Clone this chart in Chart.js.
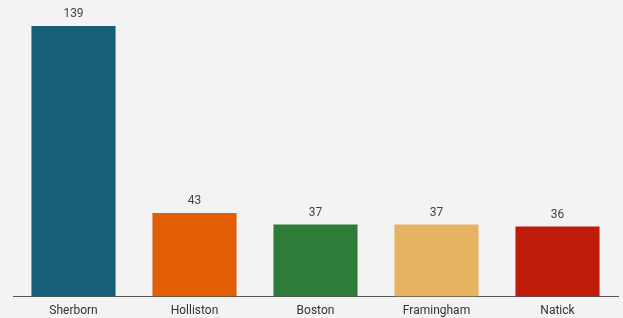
<!DOCTYPE html>
<html>
<head>
<meta charset="utf-8">
<script src="https://cdn.jsdelivr.net/npm/chart.js@4/dist/chart.umd.min.js"></script>
<style>
  html, body { margin: 0; padding: 0; background: #f3f3f3; }
  canvas { display: block; }
</style>
</head>
<body>
<canvas id="myChart" width="623" height="318"></canvas>
<script>
const towns = ['Sherborn', 'Holliston', 'Boston', 'Framingham', 'Natick'];
const counts = [139, 43, 37, 37, 36];
const barColors = ['#175f78', '#e25e04', '#2f7c39', '#e6b363', '#bf1b0b'];

// values written above each bar
const valueLabels = {
  id: 'valueLabels',
  afterDatasetsDraw(chart) {
    const ctx = chart.ctx;
    const meta = chart.getDatasetMeta(0);
    ctx.save();
    ctx.font = '12px Roboto';
    ctx.fillStyle = '#444';
    ctx.textAlign = 'center';
    ctx.textBaseline = 'bottom';
    meta.data.forEach((bar, i) => {
      ctx.fillText(counts[i], bar.x, bar.y - 6);
    });
    ctx.restore();
  }
};

const ctx = document.getElementById('myChart').getContext('2d');
new Chart(ctx, {
  type: 'bar',
  data: {
    labels: towns,
    datasets: [{
      data: counts,
      backgroundColor: barColors,
      borderWidth: 0,
      barPercentage: 0.695,
      categoryPercentage: 1
    }]
  },
  options: {
    responsive: false,
    animation: false,
    layout: { padding: { left: 13, right: 5, top: 26, bottom: -7 } },
    plugins: {
      legend: { display: false },
      tooltip: { enabled: false }
    },
    scales: {
      x: {
        grid: { display: false, drawTicks: false, tickLength: 0 },
        border: { display: true, color: '#555', width: 1 },
        ticks: { color: '#333', padding: 7, font: { family: 'Roboto', size: 12 } }
      },
      y: {
        display: false,
        min: 0,
        max: 139
      }
    }
  },
  plugins: [valueLabels]
});
</script>
</body>
</html>
